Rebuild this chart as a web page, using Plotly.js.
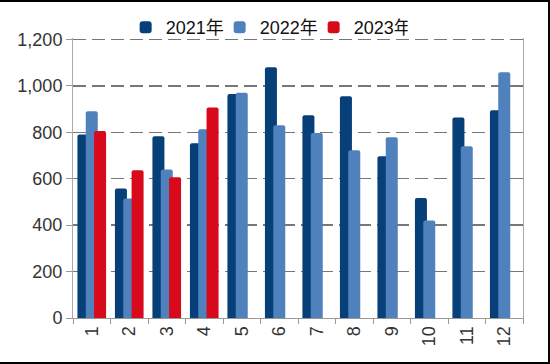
<!DOCTYPE html>
<html>
<head>
<meta charset="utf-8">
<script src="https://cdn.plot.ly/plotly-3.0.1.min.js"></script>
<style>
  html, body { margin: 0; padding: 0; background: #fff; }
  #wrap { position: relative; width: 550px; height: 364px; }
  #chart { width: 550px; height: 364px; }
  #frame { position: absolute; left: 0; top: 0; width: 550px; height: 364px; box-sizing: border-box;
           border-top: 2px solid #000; border-right: 2px solid #000; border-bottom: 2px solid #000; pointer-events: none; }
</style>
</head>
<body>
<div id="wrap"><div id="chart"></div><div id="frame"></div></div>
<script>
const months = ['1','2','3','4','5','6','7','8','9','10','11','12'];
const seriesNames = ['2021年', '2022年', '2023年'];
const y2021 = [790, 558, 783, 753, 965, 1080, 873, 955, 697, 517, 864, 895];
const y2022 = [890, 515, 640, 813, 970, 830, 797, 723, 778, 420, 740, 1058];
const y2023 = [805, 636, 606, 907, null, null, null, null, null, null, null, null];
const yTicks = [0, 200, 400, 600, 800, 1000, 1200];

const colors = ['#073f78', '#4f81bd', '#d9091c'];
const barW = 0.32;
const step = 0.222;
const font = 'Liberation Sans, Arial, Noto Sans CJK SC, sans-serif';

const allSeries = [y2021, y2022, y2023];
const traces = allSeries.map((ys, i) => ({
  type: 'bar',
  name: seriesNames[i],
  x: months,
  y: ys,
  width: barW,
  offset: (i - 1) * step - barW / 2,
  marker: { color: colors[i], line: { width: 0 } },
  hoverinfo: 'x+y+name'
}));

const layout = {
  width: 550,
  height: 364,
  margin: { l: 73, r: 27, t: 38, b: 46, autoexpand: false },
  paper_bgcolor: '#fff',
  plot_bgcolor: '#fff',
  barmode: 'overlay',
  barcornerradius: 2,
  font: { family: font, size: 18, color: '#333' },
  showlegend: true,
  legend: {
    orientation: 'h',
    x: 0.117, xanchor: 'left',
    y: 1.037, yanchor: 'middle',
    font: { family: font, size: 18, color: '#111' },
    entrywidth: 49,
    bgcolor: 'rgba(0,0,0,0)',
    traceorder: 'normal'
  },
  xaxis: {
    type: 'category',
    tickangle: -90,
    showline: true,
    linecolor: '#999',
    linewidth: 1,
    ticks: 'outside',
    tickson: 'boundaries',
    ticklen: 5,
    tickcolor: '#999',
    showgrid: false,
    tickfont: { family: font, size: 18, color: '#333' },
    fixedrange: true
  },
  yaxis: {
    range: [0, 1206],
    tickvals: yTicks,
    tickformat: ',',
    showline: true,
    mirror: true,
    linecolor: '#aaa',
    linewidth: 1,
    ticks: 'outside',
    ticklen: 6,
    tickcolor: '#999',
    showgrid: true,
    gridcolor: '#777',
    gridwidth: 1.5,
    griddash: '13px,6px',
    zeroline: false,
    tickfont: { family: font, size: 18, color: '#333' },
    fixedrange: true
  }
};

Plotly.newPlot('chart', traces, layout, { displayModeBar: false, staticPlot: true });
</script>
</body>
</html>
